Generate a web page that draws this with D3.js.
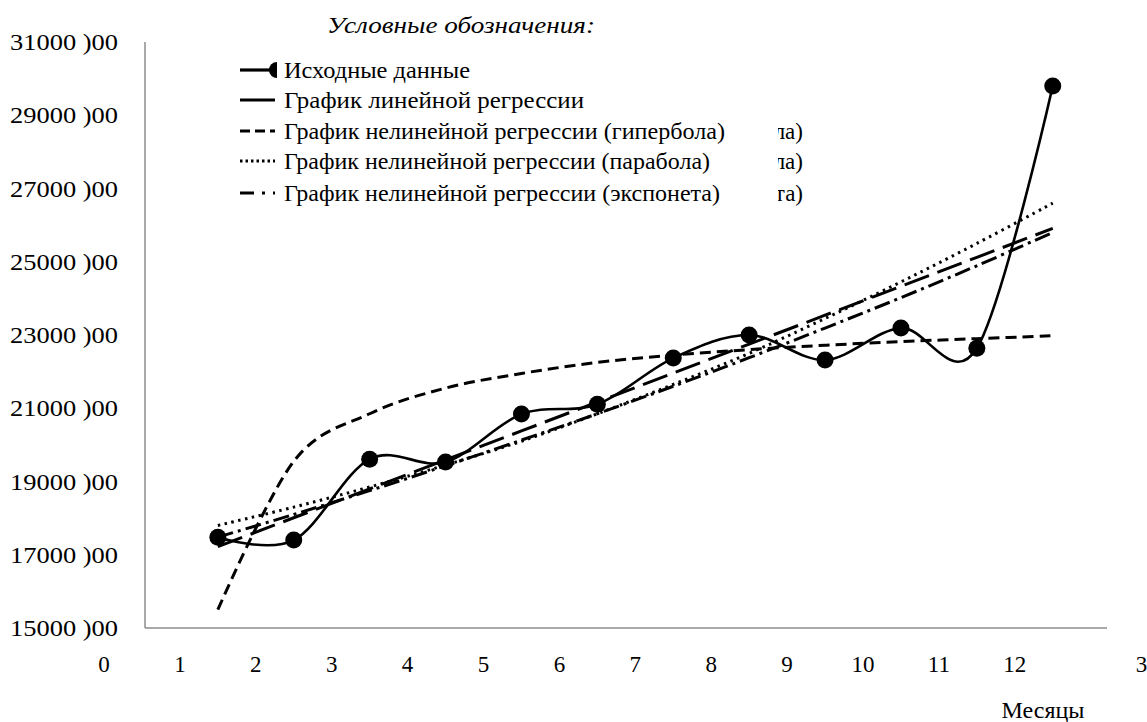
<!DOCTYPE html>
<html><head><meta charset="utf-8">
<script src="https://cdn.jsdelivr.net/npm/d3@7"></script>
<style>html,body{margin:0;padding:0;background:#fff;}svg{display:block;}</style>
</head><body>
<svg id="c" width="1147" height="722"></svg>
<script>
const months = [1,2,3,4,5,6,7,8,9,10,11,12];
const actual = [17480, 17400, 19610, 19530, 20840, 21110, 22370, 23000, 22320, 23190, 22640, 29800];
const linearReg = [17220, 18010, 18800, 19590, 20380, 21170, 21960, 22750, 23540, 24330, 25120, 25910];
const hyperbolaReg = [15500, 19550, 20850, 21550, 21950, 22250, 22450, 22600, 22720, 22820, 22900, 22980];
const parabolaReg = [17800, 18300, 18850, 19450, 20100, 20850, 21650, 22500, 23450, 24450, 25500, 26600];
const exponentReg = [17480, 18100, 18750, 19430, 20130, 20850, 21600, 22380, 23190, 24020, 24890, 25800];
const xTicks = [0,1,2,3,4,5,6,7,8,9,10,11,12];
const yTicks = [15000,17000,19000,21000,23000,25000,27000,29000,31000];
const legendTitle = "Условные обозначения:";
const legendItems = ["Исходные данные","График линейной регрессии","График нелинейной регрессии (гипербола)","График нелинейной регрессии (парабола)","График нелинейной регрессии (экспонета)"];
const xTitle = "Месяцы";

const FONT = "Liberation Serif";
const svg = d3.select("#c");
const x = d3.scaleLinear().domain([0,13]).range([104, 104+13*75.9]);
const y = d3.scaleLinear().domain([15000,31000]).range([628,42]);
const mx = m => x(m+0.5);
const txt = (fs) => svg.append("text").style("font-family", FONT).attr("font-size", fs||23).attr("fill","#000");

const defs = svg.append("defs");
defs.append("clipPath").attr("id","clip13").append("rect").attr("x",1135).attr("y",640).attr("width",20).attr("height",50);
defs.append("clipPath").attr("id","clipA").append("rect").attr("x",778).attr("y",100).attr("width",100).attr("height",110);
defs.append("clipPath").attr("id","clipM").append("rect").attr("x",230).attr("y",55).attr("width",47).attr("height",30);

svg.append("line").attr("x1",145).attr("x2",145).attr("y1",y(31000)).attr("y2",y(15000)).attr("stroke","#8c8c8c").attr("stroke-width",1.5);
svg.append("line").attr("x1",145).attr("x2",1107).attr("y1",y(15000)).attr("y2",y(15000)).attr("stroke","#8c8c8c").attr("stroke-width",1.5);

yTicks.forEach(d=>{
  txt(24).attr("x",10).attr("y",y(d)+8)
    .attr("textLength",108).attr("lengthAdjust","spacingAndGlyphs")
    .text(d+" )00");
});
xTicks.forEach(d=>{
  txt(23).attr("x",x(d)).attr("y",672).attr("text-anchor","middle").text(d);
});
txt(23).attr("clip-path","url(#clip13)").attr("x",x(12)+121).attr("y",672).attr("text-anchor","middle").text("13");
txt(24).attr("x",1043).attr("y",718).attr("text-anchor","middle").text(xTitle);

const smooth = d3.line().x((d,i)=>mx(months[i])).y(d=>y(d)).curve(d3.curveCardinal.tension(0));
const straight = d3.line().x((d,i)=>mx(months[i])).y(d=>y(d));

function series(data, gen, dash, w){
  svg.append("path").datum(data).attr("d",gen).attr("fill","none").attr("stroke","#000")
    .attr("stroke-width",w).attr("stroke-dasharray",dash).attr("stroke-linecap","butt");
}
series(parabolaReg, smooth, "2.5,4.5", 3);
series(hyperbolaReg, smooth, "11,6", 3);
series(exponentReg, smooth, "16,5,3,5", 3);
series(linearReg, straight, "26,9", 3);
series(actual, smooth, null, 2.6);
svg.selectAll("circle.pt").data(actual).join("circle").attr("class","pt")
  .attr("cx",(d,i)=>mx(months[i])).attr("cy",d=>y(d)).attr("r",8.5).attr("fill","#000");

txt(23).attr("x",461).attr("y",33).attr("text-anchor","middle")
  .attr("font-style","italic").attr("textLength",268).attr("lengthAdjust","spacingAndGlyphs").text(legendTitle);
const rowsY = [70,100,131,161,193];
const ends = [470,584,725,710,720];
const dashes = [null,null,"10,5","2.5,3","14,8,3,8"];
legendItems.forEach((t,i)=>{
  txt(23).attr("x",284).attr("y",rowsY[i]+8)
    .attr("textLength",ends[i]-284).attr("lengthAdjust","spacingAndGlyphs").text(t);
  svg.append("line").attr("x1",240).attr("x2",i===0?272:275).attr("y1",rowsY[i]).attr("y2",rowsY[i])
    .attr("stroke","#000").attr("stroke-width",3.2).attr("stroke-dasharray",dashes[i]);
});
svg.append("circle").attr("clip-path","url(#clipM)").attr("cx",277).attr("cy",rowsY[0]).attr("r",8).attr("fill","#000");
const ghost = ["ла)","ла)","та)"];
ghost.forEach((t,i)=>{
  txt(23).attr("clip-path","url(#clipA)").attr("x",803).attr("y",rowsY[i+2]+8)
    .attr("text-anchor","end").text(t);
});
</script>
</body></html>
